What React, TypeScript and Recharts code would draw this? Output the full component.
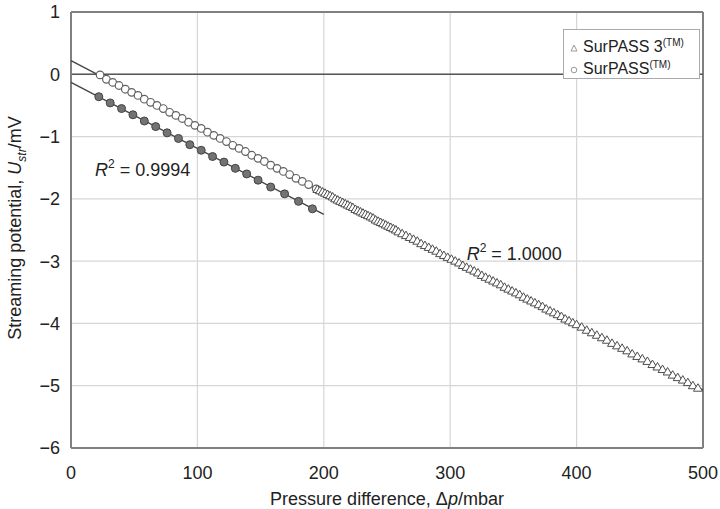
import { ComposedChart, Scatter, XAxis, YAxis, CartesianGrid, ReferenceLine, Label } from 'recharts'

const FONT = '"Liberation Sans", Arial, Helvetica, sans-serif'

const xTicks = [0, 100, 200, 300, 400, 500]
const yTicks = [-6, -5, -4, -3, -2, -1, 0, 1]

// SurPASS 3 (open triangles), dense at the start of the ramp
const surpass3X = [
  195, 197, 199, 201, 203, 205, 207, 209, 211, 213, 215, 217, 219, 221, 223, 225, 227, 229, 231, 233, 235, 237, 239, 241, 243, 245, 247, 249, 251, 253, 255, 257, 259,
  262, 265, 268, 271, 274, 277, 280, 283, 286, 289, 292, 295, 298, 301, 304, 307, 310, 313, 316, 319, 322, 325, 328, 331, 334, 337, 340, 343, 346, 349, 352, 355, 358, 361, 364, 367, 370, 373, 376, 379, 382, 385, 388, 391, 394, 397, 400,
  404, 408, 412, 416, 420, 424, 428, 432, 436, 440, 444, 448, 452, 456, 460, 464, 468, 472, 476, 480, 484, 488, 492, 496,
]
const surpass3Y = [
  -1.85, -1.87, -1.89, -1.91, -1.93, -1.95, -1.97, -2.0, -2.02, -2.04, -2.06, -2.08, -2.1, -2.12, -2.14, -2.17, -2.19, -2.21, -2.23, -2.25, -2.27, -2.29, -2.31, -2.34, -2.36, -2.38, -2.4, -2.42, -2.44, -2.46, -2.48, -2.5, -2.53,
  -2.56, -2.59, -2.62, -2.65, -2.68, -2.72, -2.75, -2.78, -2.81, -2.84, -2.88, -2.91, -2.94, -2.97, -3.0, -3.03, -3.07, -3.1, -3.13, -3.16, -3.19, -3.23, -3.26, -3.29, -3.32, -3.35, -3.38, -3.42, -3.45, -3.48, -3.51, -3.54, -3.58, -3.61, -3.64, -3.67, -3.7, -3.73, -3.77, -3.8, -3.83, -3.86, -3.89, -3.93, -3.96, -3.99, -4.02,
  -4.06, -4.11, -4.15, -4.19, -4.23, -4.27, -4.32, -4.36, -4.4, -4.44, -4.49, -4.53, -4.57, -4.61, -4.66, -4.7, -4.74, -4.78, -4.83, -4.87, -4.91, -4.95, -5.0, -5.04,
]

// SurPASS, open circles
const surpassOpenX = [23, 28, 33, 38, 43, 48, 53, 58, 63, 68, 73, 78, 83, 88, 93, 98, 103, 108, 113, 118, 123, 128, 133, 138, 143, 148, 153, 158, 163, 168, 173, 178, 183, 188, 194]
const surpassOpenY = [-0.01, -0.08, -0.13, -0.18, -0.24, -0.29, -0.34, -0.4, -0.45, -0.5, -0.55, -0.61, -0.66, -0.71, -0.77, -0.82, -0.87, -0.93, -0.98, -1.03, -1.08, -1.14, -1.19, -1.24, -1.3, -1.35, -1.4, -1.46, -1.51, -1.56, -1.61, -1.67, -1.72, -1.77, -1.84]

// SurPASS, filled circles
const surpassFilledX = [22, 31, 40, 49, 58, 67, 76, 85, 94, 103, 112, 121, 130, 139, 148, 158, 169, 180, 191]
const surpassFilledY = [-0.36, -0.46, -0.55, -0.65, -0.75, -0.84, -0.94, -1.03, -1.13, -1.22, -1.32, -1.41, -1.51, -1.6, -1.7, -1.81, -1.92, -2.04, -2.16]

// linear fits (end points)
const fitOpen = [{ x: 0, y: 0.22 }, { x: 196, y: -1.86 }]
const fitFilled = [{ x: 0, y: -0.13 }, { x: 200, y: -2.25 }]
const fitSurpass3 = [{ x: 195, y: -1.85 }, { x: 500, y: -5.07 }]

const r2Labels = [
  { x: 19, y: -1.54, text: '0.9994' },
  { x: 313, y: -2.88, text: '1.0000' },
]

const toPoints = (xs: number[], ys: number[]) => xs.map((x, i) => ({ x, y: ys[i] }))

const triData = toPoints(surpass3X, surpass3Y)
const openData = toPoints(surpassOpenX, surpassOpenY)
const filledData = toPoints(surpassFilledX, surpassFilledY)

const minus = (v: number) => String(v).replace('-', '\u2212')

const Triangle = (p: any) => (
  <polygon
    points={`${p.cx},${p.cy - 4.5} ${p.cx - 4.5},${p.cy + 3} ${p.cx + 4.5},${p.cy + 3}`}
    fill="#fff" stroke="#4d4d4d" strokeWidth={1} />
)
const OpenCircle = (p: any) => <circle cx={p.cx} cy={p.cy} r={3.8} fill="#fff" stroke="#606060" strokeWidth={1.2} />
const FilledCircle = (p: any) => <circle cx={p.cx} cy={p.cy} r={4} fill="#737373" stroke="#444" strokeWidth={1} />
const NoShape = () => <g />

const R2Text = (p: any) => (
  <text x={p.cx} y={p.cy} dy={6} fontFamily={FONT} fontSize={18} fill="#222">
    <tspan fontStyle="italic">R</tspan>
    <tspan fontSize={12} dy={-8}>2</tspan>
    <tspan dy={8}>{' = ' + p.payload.text}</tspan>
  </text>
)

const XTitle = () => (
  <text x={387} y={505} textAnchor="middle" fontFamily={FONT} fontSize={18} fill="#222">
    Pressure difference, Δ<tspan fontStyle="italic">p</tspan>/mbar
  </text>
)

const YTitle = () => (
  <text x={21} y={228} transform="rotate(-90 21 228)" textAnchor="middle" fontFamily={FONT} fontSize={18} fill="#222">
    Streaming potential, <tspan fontStyle="italic">U</tspan>
    <tspan fontStyle="italic" fontSize={12} dy={5}>str</tspan>
    <tspan dy={-5}>/mV</tspan>
  </text>
)

const tickStyle = { fontFamily: FONT, fontSize: 18, fill: '#222' }

export default function App() {
  return (
    <div style={{ position: 'absolute', left: 0, top: 0, width: 720, height: 509, background: '#fff' }}>
      <ComposedChart width={720} height={509} margin={{ top: 12, right: 17, left: 0, bottom: 0 }}>
        <CartesianGrid stroke="#d6d6d6" strokeWidth={1.2} />
        <XAxis type="number" dataKey="x" domain={[0, 500]} ticks={xTicks} height={61}
          tickLine={false} tickMargin={12} tick={tickStyle}
          axisLine={{ stroke: '#808080', strokeWidth: 2 }}>
          <Label content={<XTitle />} />
        </XAxis>
        <YAxis type="number" dataKey="y" domain={[-6, 1]} ticks={yTicks} width={71}
          tickLine={false} tickMargin={5} tick={tickStyle} tickFormatter={minus}
          axisLine={{ stroke: '#808080', strokeWidth: 2 }}>
          <Label content={<YTitle />} />
        </YAxis>
        <ReferenceLine y={1} stroke="#808080" strokeWidth={2} />
        <ReferenceLine x={500} stroke="#808080" strokeWidth={2} />
        <ReferenceLine y={0} stroke="#555" strokeWidth={1.5} />

        <Scatter data={fitOpen} line={{ stroke: '#444', strokeWidth: 1.3 }} shape={NoShape} isAnimationActive={false} />
        <Scatter data={fitFilled} line={{ stroke: '#444', strokeWidth: 1.3 }} shape={NoShape} isAnimationActive={false} />
        <Scatter data={fitSurpass3} line={{ stroke: '#444', strokeWidth: 1.3 }} shape={NoShape} isAnimationActive={false} />

        <Scatter data={filledData} shape={FilledCircle} isAnimationActive={false} />
        <Scatter data={openData} shape={OpenCircle} isAnimationActive={false} />
        <Scatter data={triData} shape={Triangle} isAnimationActive={false} />

        <Scatter data={r2Labels} shape={R2Text} isAnimationActive={false} />
      </ComposedChart>

      <div style={{
        position: 'absolute', left: 563, top: 29, width: 135, height: 48,
        border: '1px solid #aaa', background: '#fff', fontFamily: FONT, fontSize: 16, color: '#222',
      }}>
        <div style={{ position: 'absolute', left: 6, top: 4, whiteSpace: 'nowrap', lineHeight: '18px' }}>
          <svg width={8} height={8} style={{ marginRight: 5 }}>
            <polygon points="4,1 1,7 7,7" fill="#fff" stroke="#999" strokeWidth={1} />
          </svg>
          SurPASS 3<sup style={{ fontSize: 10 }}>(TM)</sup>
        </div>
        <div style={{ position: 'absolute', left: 6, top: 26, whiteSpace: 'nowrap', lineHeight: '18px' }}>
          <svg width={8} height={8} style={{ marginRight: 5 }}>
            <circle cx={4} cy={4} r={2.8} fill="#fff" stroke="#999" strokeWidth={1} />
          </svg>
          SurPASS<sup style={{ fontSize: 10 }}>(TM)</sup>
        </div>
      </div>
    </div>
  )
}
